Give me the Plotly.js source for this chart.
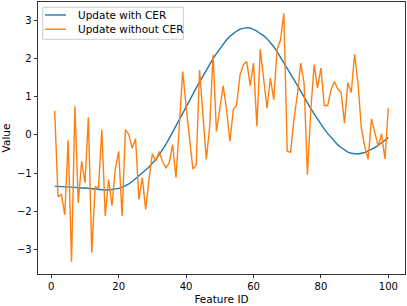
<!DOCTYPE html>
<html>
<head>
<meta charset="utf-8">
<script src="https://cdn.plot.ly/plotly-3.0.1.min.js"></script>
<style>html,body{margin:0;padding:0;background:#fff;}#chart{width:407px;height:306px;}</style>
</head>
<body>
<div id="chart"></div>
<script>
const featureIds = Array.from({length: 100}, (_, i) => i + 1);

const withCER = [
  -1.34, -1.35, -1.35, -1.36, -1.36, -1.37, -1.37, -1.38, -1.39, -1.39,
  -1.40, -1.41, -1.42, -1.43, -1.43, -1.44, -1.44, -1.43, -1.42, -1.40,
  -1.37, -1.33, -1.28, -1.22, -1.15, -1.08, -1.00, -0.92, -0.84, -0.75,
  -0.64, -0.52, -0.39, -0.25, -0.09, 0.07, 0.22, 0.39, 0.56, 0.73,
  0.90, 1.06, 1.23, 1.39, 1.55, 1.71, 1.86, 2.00, 2.13, 2.26,
  2.38, 2.49, 2.58, 2.66, 2.72, 2.77, 2.80, 2.81, 2.80, 2.77,
  2.72, 2.65, 2.60, 2.52, 2.42, 2.31, 2.18, 2.04, 1.90, 1.75,
  1.60, 1.45, 1.30, 1.14, 0.99, 0.84, 0.69, 0.55, 0.41, 0.28,
  0.15, 0.04, -0.07, -0.17, -0.26, -0.33, -0.40, -0.45, -0.48, -0.50,
  -0.50, -0.48, -0.46, -0.42, -0.38, -0.33, -0.27, -0.21, -0.14, -0.07
];

const withoutCER = [
  0.63, -1.62, -1.56, -2.09, -0.14, -3.32, 0.75, -1.78, -0.69, -1.25,
  0.46, -3.08, -1.36, -1.38, 0.14, -2.12, -1.17, -1.85, -0.88, -0.43,
  -2.12, 0.14, 0.01, -0.35, -0.10, -1.69, -1.12, -1.95, -1.15, -0.49,
  -0.69, -0.43, -0.69, -0.86, -0.73, -0.25, -1.12, 0.40, 1.66, 0.75,
  -0.05, -0.89, -0.78, 1.70, 0.50, -0.64, 0.22, 2.10, 0.09, 0.66,
  1.29, 0.66, -0.17, 0.66, 0.79, 1.57, 1.84, 1.92, 1.29, 1.88,
  0.22, 2.24, 1.53, 0.70, 1.49, 0.92, 2.23, 2.49, 3.18, -0.43,
  -0.45, 0.40, 1.05, 1.88, 1.36, -1.04, 0.66, 1.84, 1.23, 1.75,
  0.77, 0.77, 1.18, 1.40, 1.20, 1.11, 0.31, 1.37, 1.11, 2.12,
  1.36, 0.18, -0.30, -0.64, 0.42, 0.05, -0.30, 0.03, -0.63, 0.70
];

const seriesNames = ["Update with CER", "Update without CER"];
const seriesColors = ["#1f77b4", "#ff7f0e"];
const xTicks = [0, 20, 40, 60, 80, 100];
const yTicks = [-3, -2, -1, 0, 1, 2, 3];

const font = {family: "DejaVu Sans", size: 10, color: "#000"};
const legendFont = {family: "DejaVu Sans", size: 10.5, color: "#000"};

const traces = [
  {x: featureIds, y: withCER, name: seriesNames[0], type: "scatter", mode: "lines",
   line: {color: seriesColors[0], width: 1.4}},
  {x: featureIds, y: withoutCER, name: seriesNames[1], type: "scatter", mode: "lines",
   line: {color: seriesColors[1], width: 1.4}}
];

const axisCommon = {
  showgrid: false, zeroline: false, showline: true, linecolor: "#000", linewidth: 0.8,
  mirror: true, ticks: "outside", ticklen: 3.5, tickwidth: 0.8, tickcolor: "#000",
  tickfont: font
};

// matplotlib-style legend box (upper left), drawn in plot-area fractions
const legBox = {x0: 0.0128, x1: 0.396, y0: 0.863, y1: 0.9806};
const legRows = [0.9523, 0.8998];
const legLineX = [0.019, 0.0763];
const legTextX = 0.1035;

const shapes = [{type: "rect", xref: "paper", yref: "paper",
  x0: legBox.x0, x1: legBox.x1, y0: legBox.y0, y1: legBox.y1,
  line: {color: "#cccccc", width: 1}, fillcolor: "rgba(255,255,255,0.8)", layer: "above"}];
const annotations = [];
seriesNames.forEach((name, i) => {
  shapes.push({type: "line", xref: "paper", yref: "paper",
    x0: legLineX[0], x1: legLineX[1], y0: legRows[i], y1: legRows[i],
    line: {color: seriesColors[i], width: 1.4}, layer: "above"});
  annotations.push({xref: "paper", yref: "paper", x: legTextX, y: legRows[i],
    xanchor: "left", yanchor: "middle", text: name, showarrow: false, font: legendFont});
});

const layout = {
  width: 407, height: 306,
  margin: {l: 38, r: 2, t: 2, b: 32, pad: 0},
  paper_bgcolor: "#fff", plot_bgcolor: "#fff",
  font: font,
  showlegend: false,
  shapes: shapes,
  annotations: annotations,
  xaxis: Object.assign({}, axisCommon, {range: [-3.95, 104.95], tickvals: xTicks,
          title: {text: "Feature ID", font: legendFont, standoff: 4}}),
  yaxis: Object.assign({}, axisCommon, {range: [-3.64, 3.48], tickvals: yTicks,
          title: {text: "Value", font: legendFont, standoff: 6}})
};

Plotly.newPlot("chart", traces, layout, {displayModeBar: false, staticPlot: true});
</script>
</body>
</html>
